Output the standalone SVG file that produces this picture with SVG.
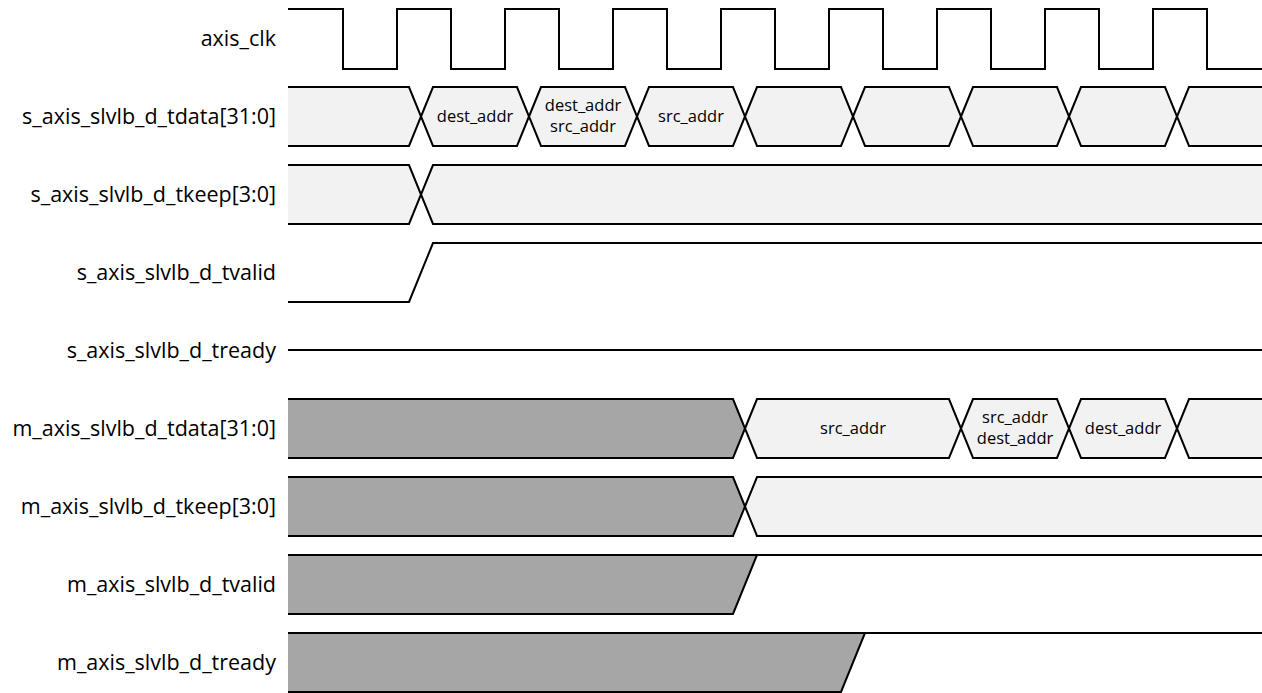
<svg xmlns="http://www.w3.org/2000/svg" width="1262" height="693" viewBox="0 0 1262 693">
<style>
.lbl{font-family:"Open Sans","Liberation Sans",sans-serif;font-size:21.5px;fill:#000;text-anchor:end}
.in{font-family:"Open Sans","Liberation Sans",sans-serif;font-size:16.5px;fill:#000;text-anchor:middle}
.w{fill:none;stroke:#000;stroke-width:2;stroke-linejoin:miter}
.lt{fill:#f2f2f2;stroke:#000;stroke-width:2}
.gy{fill:#a6a6a6;stroke:#000;stroke-width:2}
</style>
<rect width="1262" height="693" fill="#fff"/>
<g id="labels">
<text class="lbl" x="276" y="46">axis_clk</text>
<text class="lbl" x="276" y="124">s_axis_slvlb_d_tdata[31:0]</text>
<text class="lbl" x="276" y="202">s_axis_slvlb_d_tkeep[3:0]</text>
<text class="lbl" x="276" y="280">s_axis_slvlb_d_tvalid</text>
<text class="lbl" x="276" y="358">s_axis_slvlb_d_tready</text>
<text class="lbl" x="276" y="436">m_axis_slvlb_d_tdata[31:0]</text>
<text class="lbl" x="276" y="514">m_axis_slvlb_d_tkeep[3:0]</text>
<text class="lbl" x="276" y="592">m_axis_slvlb_d_tvalid</text>
<text class="lbl" x="276" y="670">m_axis_slvlb_d_tready</text>
</g>
<g id="clk">
<path class="w" d="M288,9 H343 V69 H397 V9 H451 V69 H505 V9 H559 V69 H613 V9 H667 V69 H721 V9 H775 V69 H829 V9 H883 V69 H937 V9 H991 V69 H1045 V9 H1099 V69 H1153 V9 H1207 V69 H1262"/>
</g>
<g id="s_tdata">
<path class="lt" d="M288,87 H409 L421,116.5 L409,146 H288"/>
<path class="lt" d="M421,116.5 L433,87 H517 L529,116.5 L517,146 H433 Z"/>
<path class="lt" d="M529,116.5 L541,87 H625 L637,116.5 L625,146 H541 Z"/>
<path class="lt" d="M637,116.5 L649,87 H733 L745,116.5 L733,146 H649 Z"/>
<path class="lt" d="M745,116.5 L757,87 H841 L853,116.5 L841,146 H757 Z"/>
<path class="lt" d="M853,116.5 L865,87 H949 L961,116.5 L949,146 H865 Z"/>
<path class="lt" d="M961,116.5 L973,87 H1057 L1069,116.5 L1057,146 H973 Z"/>
<path class="lt" d="M1069,116.5 L1081,87 H1165 L1177,116.5 L1165,146 H1081 Z"/>
<path class="lt" d="M1262,87 H1189 L1177,116.5 L1189,146 H1262"/>
<text class="in" x="475" y="122">dest_addr</text>
<text class="in" x="583" y="110.5">dest_addr</text>
<text class="in" x="583" y="132">src_addr</text>
<text class="in" x="691" y="122">src_addr</text>
</g>
<g id="s_tkeep">
<path class="lt" d="M288,165 H409 L421,194.5 L409,224 H288"/>
<path class="lt" d="M1262,165 H433 L421,194.5 L433,224 H1262"/>
</g>
<g id="s_tvalid">
<path class="w" d="M288,302 H409 L433,243 H1262"/>
</g>
<g id="s_tready">
<path class="w" d="M288,350 H1262"/>
</g>
<g id="m_tdata">
<path class="gy" d="M288,399 H733 L745,428.5 L733,458 H288"/>
<path class="lt" d="M745,428.5 L757,399 H949 L961,428.5 L949,458 H757 Z"/>
<path class="lt" d="M961,428.5 L973,399 H1057 L1069,428.5 L1057,458 H973 Z"/>
<path class="lt" d="M1069,428.5 L1081,399 H1165 L1177,428.5 L1165,458 H1081 Z"/>
<path class="lt" d="M1262,399 H1189 L1177,428.5 L1189,458 H1262"/>
<text class="in" x="853" y="434">src_addr</text>
<text class="in" x="1015" y="422.5">src_addr</text>
<text class="in" x="1015" y="444">dest_addr</text>
<text class="in" x="1123" y="434">dest_addr</text>
</g>
<g id="m_tkeep">
<path class="gy" d="M288,477 H733 L745,506.5 L733,536 H288"/>
<path class="lt" d="M1262,477 H757 L745,506.5 L757,536 H1262"/>
</g>
<g id="m_tvalid">
<path class="gy" d="M288,555 H757 L733,614 H288"/>
<path class="w" d="M757,555 H1262"/>
</g>
<g id="m_tready">
<path class="gy" d="M288,633 H865 L841,692 H288"/>
<path class="w" d="M865,633 H1262"/>
</g>
</svg>
